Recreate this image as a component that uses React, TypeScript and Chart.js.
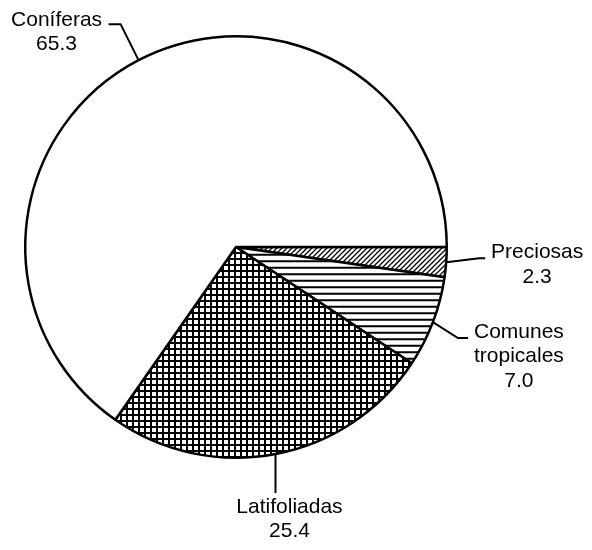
import React, { useEffect, useRef } from "react";
import { Chart, registerables } from "chart.js";

Chart.register(...registerables);

const categories = ["Preciosas", "Comunes tropicales", "Latifoliadas", "Coníferas"];
const labelLines = [["Preciosas"], ["Comunes", "tropicales"], ["Latifoliadas"], ["Coníferas"]];
const values = [2.3, 7.0, 25.4, 65.3];

function makePattern(kind: string): CanvasPattern | string {
  const c = document.createElement("canvas");
  let w = 6, h = 6;
  if (kind === "diag") { w = 5; h = 5; }
  if (kind === "hlines") { w = 4; h = 13; }
  if (kind === "grid") { w = 6; h = 6; }
  c.width = w; c.height = h;
  const g = c.getContext("2d")!;
  g.fillStyle = "#ffffff";
  g.fillRect(0, 0, w, h);
  g.strokeStyle = "#000000";
  if (kind === "diag") {
    g.lineWidth = 1.3;
    g.beginPath();
    g.moveTo(-1, 6); g.lineTo(6, -1);
    g.moveTo(-4, 4); g.lineTo(4, -4);
    g.moveTo(1, 9); g.lineTo(9, 1);
    g.stroke();
  } else if (kind === "hlines") {
    g.lineWidth = 2;
    g.beginPath();
    g.moveTo(0, 1.2); g.lineTo(w, 1.2);
    g.moveTo(0, 7.7); g.lineTo(w, 7.7);
    g.stroke();
  } else if (kind === "grid") {
    g.fillStyle = "#000000";
    g.fillRect(0, 0, w, 2);
    g.fillRect(0, 0, 2, h);
  }
  const ctx = document.createElement("canvas").getContext("2d")!;
  return ctx.createPattern(c, "repeat") || "#fff";
}

// leader line elbow/end offsets and text anchor (relative to the arc's edge point)
const leaderCfg = [
  { elbow: [33, -4], end: [39, -4], text: [91, -10], align: "center" },
  { elbow: [25, 16], end: [35, 16], text: [86, 10], align: "center" },
  { elbow: [0, 39], end: [0, 39], text: [14, 53], align: "center" },
  { elbow: [-18, -36], end: [-30, -36], text: [-82, -40], align: "center" },
];

const labelPlugin = {
  id: "leaderLabels",
  afterDraw(chart: any) {
    const ctx = chart.ctx;
    const meta = chart.getDatasetMeta(0);
    const ds = chart.data.datasets[0];
    ctx.save();
    ctx.strokeStyle = "#000";
    ctx.lineWidth = 2;
    ctx.fillStyle = "#000";
    ctx.font = "21px 'Liberation Sans', Arial, sans-serif";
    ctx.textBaseline = "middle";
    meta.data.forEach((arc: any, i: number) => {
      const p = arc.getProps(["x", "y", "startAngle", "endAngle", "outerRadius"], true);
      const mid = (p.startAngle + p.endAngle) / 2;
      const ax = p.x + Math.cos(mid) * p.outerRadius;
      const ay = p.y + Math.sin(mid) * p.outerRadius;
      const cfg = leaderCfg[i];
      ctx.beginPath();
      ctx.moveTo(ax, ay);
      ctx.lineTo(ax + cfg.elbow[0], ay + cfg.elbow[1]);
      ctx.lineTo(ax + cfg.end[0], ay + cfg.end[1]);
      ctx.stroke();
      const lines = [...labelLines[i], Number(ds.data[i]).toFixed(1)];
      ctx.textAlign = cfg.align;
      lines.forEach((t: string, k: number) => {
        ctx.fillText(t, ax + cfg.text[0], ay + cfg.text[1] + k * 24.5);
      });
    });
    ctx.restore();
  },
};

export default function App() {
  const ref = useRef<HTMLCanvasElement | null>(null);
  useEffect(() => {
    document.body.style.margin = "0";
    const canvas = ref.current!;
    const chart = new Chart(canvas, {
      type: "pie",
      data: {
        labels: categories,
        datasets: [
          {
            data: values,
            backgroundColor: [makePattern("diag"), makePattern("hlines"), makePattern("grid"), "#ffffff"] as any,
            borderColor: "#000000",
            borderWidth: 2.5,
          },
        ],
      },
      options: {
        responsive: false,
        animation: false,
        rotation: 90,
        layout: { padding: { left: 24, right: 144, top: 35, bottom: 91 } },
        plugins: { legend: { display: false }, tooltip: { enabled: false } },
      },
      plugins: [labelPlugin],
    });
    return () => chart.destroy();
  }, []);
  return (
    <div style={{ width: 592, height: 550, background: "#fff" }}>
      <canvas ref={ref} width={592} height={550} />
    </div>
  );
}
